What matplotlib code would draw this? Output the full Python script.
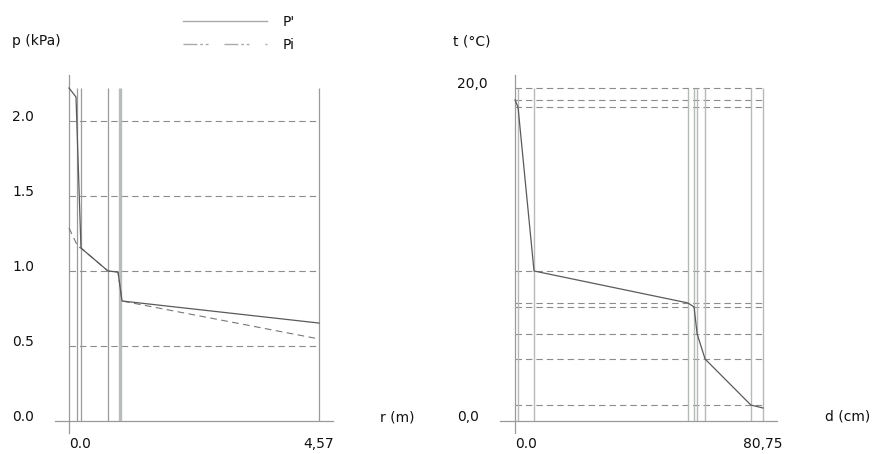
import matplotlib
matplotlib.use('Agg')
import matplotlib.pyplot as plt
from matplotlib.lines import Line2D

plt.rcParams['font.family'] = ['DejaVu Sans']
plt.rcParams['font.size'] = 10

# Druck durch die Wand (links) ---------------------------------------------
r_layers = [0.146, 0.219, 0.713, 0.932, 4.57]      # Schichtgrenzen (m)
p_grid = [0.5, 1.0, 1.5, 2.0]                      # Hilfslinien (kPa)
r_curve = [0, 0.128, 0.219, 0.713, 0.896, 0.969, 4.57]
p_sat = [2.22, 2.16, 1.153, 1.0, 0.993, 0.80, 0.653]     # P'
r_pi = [0, 0.165, 0.219, 0.713, 0.896, 0.969, 4.57]
p_i = [1.287, 1.16, 1.153, 1.0, 0.993, 0.80, 0.547]      # Pi
p_xticks = [0, 4.57]
p_xticklabels = ['0.0', '4,57']
p_yticks = [0.0, 0.5, 1.0, 1.5, 2.0]
p_yticklabels = ['0.0', '0.5', '1.0', '1.5', '2.0']

# Temperatur durch die Wand (rechts) ---------------------------------------
d_layers = [0.98, 6.19, 56.3, 58.3, 59.3, 61.9, 76.8, 80.75]   # cm
t_grid = [20.0, 19.28, 18.86, 9.01, 7.09, 6.85, 5.23, 3.72, 0.96]
d_curve = [0, 0.98, 6.19, 56.3, 58.3, 59.3, 61.9, 76.8, 80.75]
t_curve = [19.28, 18.86, 9.01, 7.09, 6.85, 5.23, 3.72, 0.96, 0.78]
t_xticks = [0, 80.75]
t_xticklabels = ['0.0', '80,75']
t_yticks = [0.0, 20.0]
t_yticklabels = ['0,0', '20,0']

axis_col = '#9a9a9a'
layer_col = '#b4bab4'
grid_col = '#8c8c8c'
curve_col = '#5a5a5a'
dash = (0, (5.8, 3.6))

W, H = 872, 454
fig = plt.figure(figsize=(W / 100, H / 100), dpi=100)
ax1 = fig.add_axes([69 / W, 33 / H, 250 / W, 333 / H])
ax2 = fig.add_axes([515 / W, 33 / H, 248 / W, 333 / H])

for ax in (ax1, ax2):
    for s in ax.spines.values():
        s.set_visible(False)
    ax.tick_params(length=0, labelsize=10, colors='#111111')

# linke Grafik ---------------------------------------------------------------
ax1.set_xlim(0, 4.57)
ax1.set_ylim(0, 2.22)
ax1.hlines(p_grid, 0, 4.57, colors=grid_col, linestyles=dash, lw=0.8)
for r in r_layers:
    if r == 0.932:
        ax1.vlines(r, 0, 2.22, colors='#b9bdb9', lw=2.4, clip_on=False)
    else:
        ax1.vlines(r, 0, 2.22, colors=axis_col, lw=0.9, clip_on=False)
ax1.plot([-0.256, 4.826], [0, 0], color=axis_col, lw=0.9, clip_on=False)
ax1.plot([0, 0], [-0.08, 2.307], color=axis_col, lw=0.9, clip_on=False)
ax1.plot(r_pi, p_i, color='#777777', lw=0.8, linestyle=(0, (6, 4)), clip_on=False)
ax1.plot(r_curve, p_sat, color=curve_col, lw=0.9, clip_on=False)

ax1.set_xticks(p_xticks)
ax1.set_xticklabels(p_xticklabels)
ax1.set_yticks(p_yticks)
ax1.set_yticklabels(p_yticklabels)
ax1.tick_params(axis='x', pad=11.5)
ax1.tick_params(axis='y', pad=41)
ax1.get_xticklabels()[0].set_ha('left')
for lab in ax1.get_yticklabels():
    lab.set_ha('left')
    lab.set_va('baseline')
ax1.text(-0.228, 1.141, 'p (kPa)', transform=ax1.transAxes, ha='left', va='center', color='#111111')
ax1.text(1.244, 0.012, 'r (m)', transform=ax1.transAxes, ha='left', va='center', color='#111111')

# Legende
handles = [Line2D([], [], color='#aaaaaa', lw=1.0),
           Line2D([], [], color='#aaaaaa', lw=1.0, linestyle=(0, (10, 2, 2, 2, 2, 11.5)))]
leg = fig.legend(handles, ["P'", 'Pi'], loc='upper left', bbox_to_anchor=(170 / W, 1 - 2 / H),
                 frameon=False, handlelength=6.1, handletextpad=1.1, labelspacing=0.65)
for t in leg.get_texts():
    t.set_color('#111111')

# rechte Grafik --------------------------------------------------------------
ax2.set_xlim(0, 80.75)
ax2.set_ylim(0, 20)
ax2.hlines(t_grid, 0, 81.4, colors=grid_col, linestyles=dash, lw=0.8, clip_on=False)
for d in d_layers:
    ax2.vlines(d, 0, 20, colors=layer_col, lw=1.0, clip_on=False)
ax2.plot([-4.9, 85.3], [0, 0], color=axis_col, lw=0.9, clip_on=False)
ax2.plot([0, 0], [-0.72, 20.78], color=axis_col, lw=0.9, clip_on=False)
ax2.plot(d_curve, t_curve, color=curve_col, lw=0.9, clip_on=False)

ax2.set_xticks(t_xticks)
ax2.set_xticklabels(t_xticklabels)
ax2.set_yticks(t_yticks)
ax2.set_yticklabels(t_yticklabels)
ax2.tick_params(axis='x', pad=11.5)
ax2.tick_params(axis='y', pad=41.8)
ax2.get_xticklabels()[0].set_ha('left')
for lab in ax2.get_yticklabels():
    lab.set_ha('left')
    lab.set_va('baseline')
ax2.text(-0.25, 1.141, 't (°C)', transform=ax2.transAxes, ha='left', va='center', color='#111111')
ax2.text(1.25, 0.015, 'd (cm)', transform=ax2.transAxes, ha='left', va='center', color='#111111')

fig.savefig('out.png', dpi=100)
